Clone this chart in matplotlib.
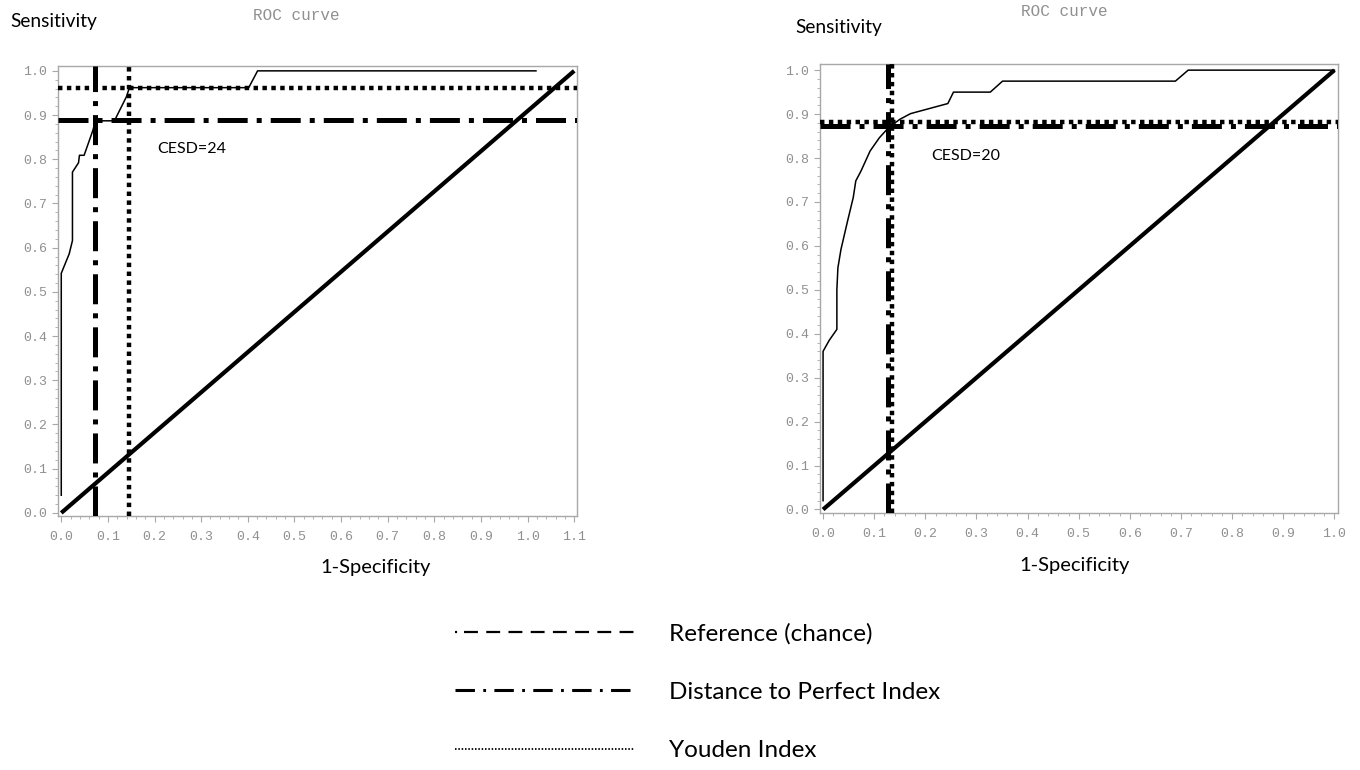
import matplotlib
matplotlib.use("Agg")
import matplotlib.pyplot as plt
from matplotlib.lines import Line2D
from matplotlib.ticker import AutoMinorLocator

plt.rcParams["lines.scale_dashes"] = False

# ROC curve values
left_fpr = [0.0, 0.0, 0.017, 0.024, 0.024, 0.037, 0.039, 0.049, 0.068, 0.073,
            0.114, 0.14, 0.146, 0.402, 0.421, 1.018]
left_tpr = [0.04, 0.542, 0.586, 0.616, 0.771, 0.792, 0.809, 0.809, 0.866, 0.887,
            0.887, 0.942, 0.962, 0.962, 1.0, 1.0]

right_fpr = [0.0, 0.0, 0.012, 0.027, 0.027, 0.029, 0.035, 0.048, 0.059, 0.064,
             0.074, 0.092, 0.110, 0.128, 0.150, 0.171, 0.244, 0.255, 0.327,
             0.351, 0.689, 0.714, 1.0]
right_tpr = [0.02, 0.36, 0.385, 0.41, 0.50, 0.55, 0.592, 0.657, 0.71, 0.748,
             0.770, 0.816, 0.846, 0.869, 0.888, 0.901, 0.924, 0.950, 0.950,
             0.975, 0.975, 1.0, 1.0]

# chance line end points
left_ref_x = [0.0, 1.1]
left_ref_y = [0.0, 1.0]
right_ref_x = [0.0, 1.0]
right_ref_y = [0.0, 1.0]

# optimal cut-offs (x, y)
left_dist = (0.073, 0.889)
left_youden = (0.146, 0.962)
right_dist = (0.127, 0.872)
right_youden = (0.134, 0.882)

cut_labels = ["CESD=24", "CESD=20"]
cut_label_pos = [(0.206, 0.823), (0.211, 0.805)]
legend_labels = ["Reference (chance)", "Distance to Perfect Index", "Youden Index"]

W, H = 1360, 770
fig = plt.figure(figsize=(W / 100, H / 100), dpi=100)

DASHDOT = (0, (21.6, 6.5, 3.6, 6.5))
DOTTED = (0, (3.2, 3.2))
SANS = "Lato"
GRAY = "#909090"


def px_axes(x0, y0, x1, y1):
    return fig.add_axes([x0 / W, 1 - y1 / H, (x1 - x0) / W, (y1 - y0) / H])


def style_axes(ax, xmax_tick):
    for s in ax.spines.values():
        s.set_color("#a8a8a8")
        s.set_linewidth(1.0)
    ax.tick_params(which="both", direction="out", color="#a8a8a8",
                   labelcolor=GRAY, labelsize=9.5)
    ax.tick_params(which="major", length=4)
    ax.tick_params(which="minor", length=2)
    ax.tick_params(axis="x", pad=7)
    ax.tick_params(axis="y", pad=4)
    ticks = [i / 10 for i in range(int(round(xmax_tick * 10)) + 1)]
    ax.set_xticks(ticks)
    ax.set_xticklabels([f"{t:.1f}" for t in ticks], family="Liberation Mono")
    yt = [i / 10 for i in range(11)]
    ax.set_yticks(yt)
    ax.set_yticklabels([f"{t:.1f}" for t in yt], family="Liberation Mono")
    ax.xaxis.set_minor_locator(AutoMinorLocator(5))
    ax.yaxis.set_minor_locator(AutoMinorLocator(5))


def draw_panel(ax, fpr, tpr, rx, ry, dist, youden, label, label_pos):
    ax.plot(fpr, tpr, color="black", lw=1.1, zorder=3)
    ax.plot(rx, ry, color="black", lw=3.0, solid_capstyle="butt", zorder=4)
    ax.axvline(dist[0], color="black", lw=3.6, linestyle=DASHDOT,
               dash_capstyle="butt", zorder=5)
    ax.axhline(dist[1], color="black", lw=3.6, linestyle=DASHDOT,
               dash_capstyle="butt", zorder=5)
    ax.axvline(youden[0], color="black", lw=3.2, linestyle=DOTTED,
               dash_capstyle="butt", zorder=5)
    ax.axhline(youden[1], color="black", lw=3.2, linestyle=DOTTED,
               dash_capstyle="butt", zorder=5)
    ax.text(label_pos[0], label_pos[1], label, family=SANS, fontsize=11.5,
            va="center", ha="left")


axL = px_axes(58, 66, 577, 516)
axL.set_xlim(-0.007, 1.106)
axL.set_ylim(-0.007, 1.011)
style_axes(axL, 1.1)
draw_panel(axL, left_fpr, left_tpr, left_ref_x, left_ref_y,
           left_dist, left_youden, cut_labels[0], cut_label_pos[0])

axR = px_axes(820, 64, 1338, 513)
axR.set_xlim(-0.006, 1.007)
axR.set_ylim(-0.008, 1.014)
style_axes(axR, 1.0)
draw_panel(axR, right_fpr, right_tpr, right_ref_x, right_ref_y,
           right_dist, right_youden, cut_labels[1], cut_label_pos[1])

# titles and axis labels
fig.text(10 / W, 1 - 22 / H, "Sensitivity", family=SANS, fontsize=13.8,
         va="center", ha="left")
fig.text(296 / W, 1 - 15 / H, "ROC curve", family="Liberation Mono",
         fontsize=11.5, color=GRAY, va="center", ha="center")
fig.text(376 / W, 1 - 567 / H, "1-Specificity", family=SANS, fontsize=14.5,
         va="center", ha="center")

fig.text(795 / W, 1 - 27 / H, "Sensitivity", family=SANS, fontsize=13.8,
         va="center", ha="left")
fig.text(1064 / W, 1 - 12 / H, "ROC curve", family="Liberation Mono",
         fontsize=11.5, color=GRAY, va="center", ha="center")
fig.text(1075 / W, 1 - 566 / H, "1-Specificity", family=SANS, fontsize=14.5,
         va="center", ha="center")

# legend below the panels
handles = [
    Line2D([], [], color="black", lw=1.6,
           linestyle=(0, (1.5, 5, 10, 6, 10, 6, 10, 6, 10, 6, 10, 6,
                          10, 6, 10, 6, 10, 6, 10, 6))),
    Line2D([], [], color="black", lw=2.2, linestyle=(0, (14, 6, 2, 6))),
    Line2D([], [], color="black", lw=1.3, linestyle=(0, (1.1, 1.3))),
]
fig.legend(handles, legend_labels, loc="upper left",
           bbox_to_anchor=(455 / W, 1 - 623 / H), frameon=False,
           prop={"family": SANS, "size": 17.5}, handlelength=7.36,
           handletextpad=1.44, labelspacing=1.54, borderpad=0,
           borderaxespad=0)

fig.savefig("out.png", dpi=100)
